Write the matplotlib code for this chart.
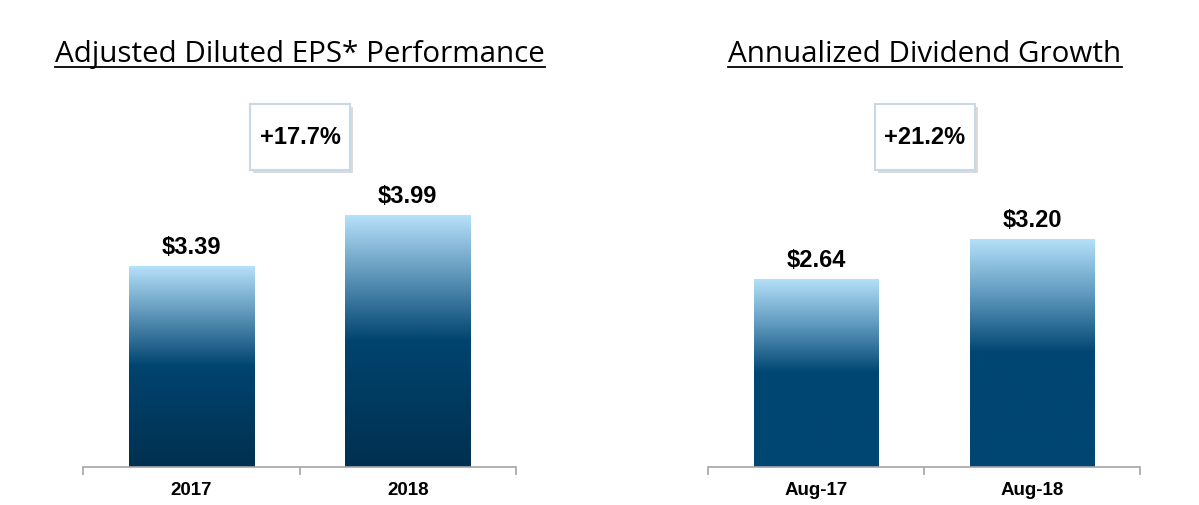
import matplotlib
matplotlib.use("Agg")
import matplotlib.pyplot as plt
import numpy as np
from matplotlib.colors import LinearSegmentedColormap
from matplotlib.patches import Rectangle
from matplotlib.lines import Line2D

# ---- data ----
eps_title = "Adjusted Diluted EPS* Performance"
eps_categories = ["2017", "2018"]
eps_values = [3.39, 3.99]
eps_labels = ["$3.39", "$3.99"]
eps_growth = "+17.7%"

div_title = "Annualized Dividend Growth"
div_categories = ["Aug-17", "Aug-18"]
div_values = [2.64, 3.20]
div_labels = ["$2.64", "$3.20"]
div_growth = "+21.2%"

W, H = 1199, 505
fig = plt.figure(figsize=(W / 100, H / 100), dpi=100)
fig.patch.set_facecolor("white")

def fx(px):
    return px / W

def fy(py):
    return 1 - py / H

cmap_left = LinearSegmentedColormap.from_list(
    "l", [(0.0, "#00304f"), (0.5, "#00446f"), (0.75, "#5b93b7"), (1.0, "#b7e2fb")])
cmap_right = LinearSegmentedColormap.from_list(
    "r", [(0.0, "#004672"), (0.5, "#004672"), (0.75, "#5d98bd"), (1.0, "#b5e1fa")])

def draw_panel(left_px, right_px, categories, values, labels, cmap, ylim):
    top_px, bot_px = 100, 467
    ax = fig.add_axes([fx(left_px), fy(bot_px), fx(right_px - left_px),
                       (bot_px - top_px) / H])
    x = np.arange(len(categories))
    bars = ax.bar(x, values, width=0.578, color="none", edgecolor="none")
    grad = np.linspace(0, 1, 256).reshape(-1, 1)
    for b in bars:
        x0, y0 = b.get_x(), max(ylim[0], 0)
        x1, y1 = b.get_x() + b.get_width(), b.get_height()
        im = ax.imshow(grad, cmap=cmap, origin="lower", aspect="auto",
                       extent=(x0, x1, ylim[0], y1), interpolation="bilinear", zorder=2)
        im.set_clip_path(b)
    ax.set_xlim(-0.5, len(categories) - 0.5)
    ax.set_ylim(*ylim)
    for xi, v, lab in zip(x, values, labels):
        ax.annotate(lab, (xi, v), xytext=(0, 5), textcoords="offset points",
                    ha="center", va="bottom", fontsize=17, fontweight="bold",
                    family="Liberation Sans", color="black")
    for s in ["top", "right", "left"]:
        ax.spines[s].set_visible(False)
    ax.spines["bottom"].set_color("#a6a6a6")
    ax.spines["bottom"].set_linewidth(1.2)
    ax.set_yticks([])
    ax.set_xticks(x)
    ax.set_xticklabels(categories, fontsize=13.5, fontweight="bold",
                       family="Liberation Sans")
    ax.tick_params(axis="x", which="major", length=0, pad=11)
    ax.set_xticks(np.arange(-0.5, len(categories)), minor=True)
    ax.tick_params(axis="x", which="minor", length=6, color="#a6a6a6", width=1.2)
    return ax

draw_panel(83, 516, eps_categories, eps_values, eps_labels, cmap_left, (1.024, 5.34))
draw_panel(708, 1140, div_categories, div_values, div_labels, cmap_right, (0.0, 5.15))

# titles with underline
renderer = fig.canvas.get_renderer()
for title, cx in [(eps_title, 300), (div_title, 925)]:
    t = fig.text(fx(cx), fy(62), title, ha="center", va="baseline",
                 fontsize=21.3, family="Open Sans", color="black")
    bb = t.get_window_extent(renderer=renderer)
    fig.add_artist(Line2D([bb.x0 / W, bb.x1 / W], [fy(67), fy(67)],
                          transform=fig.transFigure, color="black", lw=1.3))

# growth boxes
for txt, cx in [(eps_growth, 300), (div_growth, 925)]:
    bw, bh = 100, 66
    x0, y0 = cx - bw / 2, 104
    shadow = Rectangle((fx(x0 + 3), fy(y0 + bh + 3)), fx(bw), bh / H,
                       transform=fig.transFigure, facecolor="#b8b8b8",
                       edgecolor="none", alpha=0.5)
    fig.add_artist(shadow)
    box = Rectangle((fx(x0), fy(y0 + bh)), fx(bw), bh / H,
                    transform=fig.transFigure, facecolor="white",
                    edgecolor="#c9d7e6", lw=1.5)
    fig.add_artist(box)
    fig.text(fx(cx), fy(y0 + bh / 2), txt, ha="center", va="center",
             fontsize=17, fontweight="bold", family="Liberation Sans")

fig.savefig("out.png", dpi=100, facecolor="white")
